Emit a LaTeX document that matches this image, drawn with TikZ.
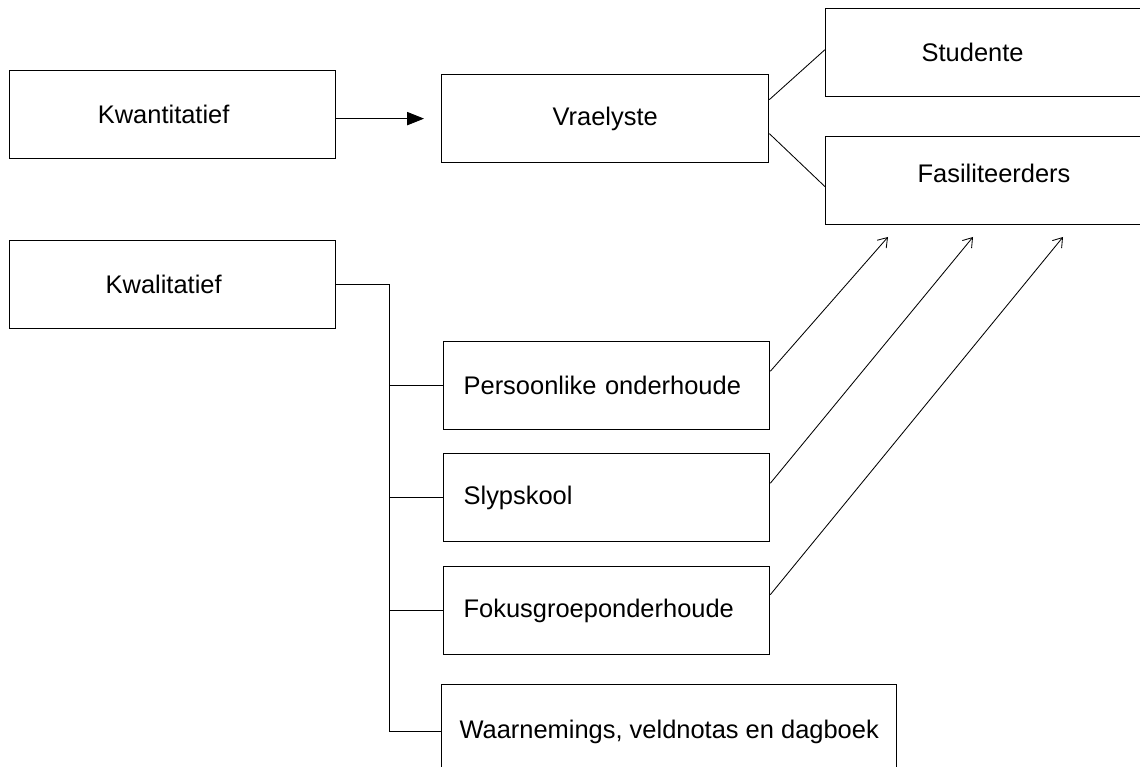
\documentclass[tikz,border=0pt]{standalone}
\usepackage{fontspec}
\setmainfont{Liberation Sans}
\usetikzlibrary{arrows.meta}

\begin{document}
\begin{tikzpicture}[x=0.025cm, y=-0.025cm, line width=0.6pt,
  every node/.style={font=\fontsize{18.1}{21}\selectfont},
  box/.style={draw, line width=0.9pt, minimum width=8.15cm, minimum height=2.2cm, inner sep=0pt, anchor=north west},
  left box/.style={box, text width=7.15cm, inner xsep=0.5cm, align=left},
  right box/.style={box, text width=4.2cm, inner xsep=2.3cm, align=left},
  feed/.style={-{Straight Barb[length=0.22cm, width=0.3cm]}}]
\useasboundingbox (0,0) rectangle (1140,767);
\clip (0,0) rectangle (1140,767);

% methods
\node [box](kwan) at (9,70) {Kwantitatief\hspace*{0.45cm}};
\node [box](kwal) at (9,240) {Kwalitatief\hspace*{0.45cm}};

% instruments
\node [box, minimum width=8.175cm](vrae) at (441,74) {Vraelyste};
\node [right box](stud) at (825,8) {\hspace*{0.1cm}Studente};
\node [right box](fasi) at (825,136) {\raisebox{0.35cm}{Fasiliteerders}};
\node [left box](pers) at (443,341) {Persoonlike onderhoude};
\node [left box](slyp) at (443,453) {Slypskool};
\node [left box](fok) at (443,566) {Fokusgroeponderhoude};
\node [box, minimum width=11.375cm, minimum height=2.35cm](waar) at (441,684) {Waarnemings, veldnotas en dagboek};

\coordinate (trunk) at (389,288);
\coordinate (tip1) at (888,237);
\coordinate (tip2) at (973,237);
\coordinate (tip3) at (1063,237);

\draw [-{Triangle[length=0.42cm, width=0.33cm]}, shorten >=0.425cm] (kwan.east |- vrae.west) -- (vrae.west);
\draw ([yshift=0.475cm]vrae.east) -- ([yshift=0.075cm]stud.west);
\draw ([yshift=-0.375cm]vrae.east) -- ([yshift=-0.15cm]fasi.west);

\draw (kwal.east) -- (kwal.east -| trunk) -- (trunk |- waar.west) -- (waar.west);
\foreach \n in {pers,slyp,fok}
  \draw (trunk |- \n.west) -- (\n.west);

\draw [feed] ([yshift=0.36cm]pers.east) -- (tip1);
\draw [feed] ([yshift=0.36cm]slyp.east) -- (tip2);
\draw [feed] ([yshift=0.4cm]fok.east) -- (tip3);
\end{tikzpicture}
\end{document}
